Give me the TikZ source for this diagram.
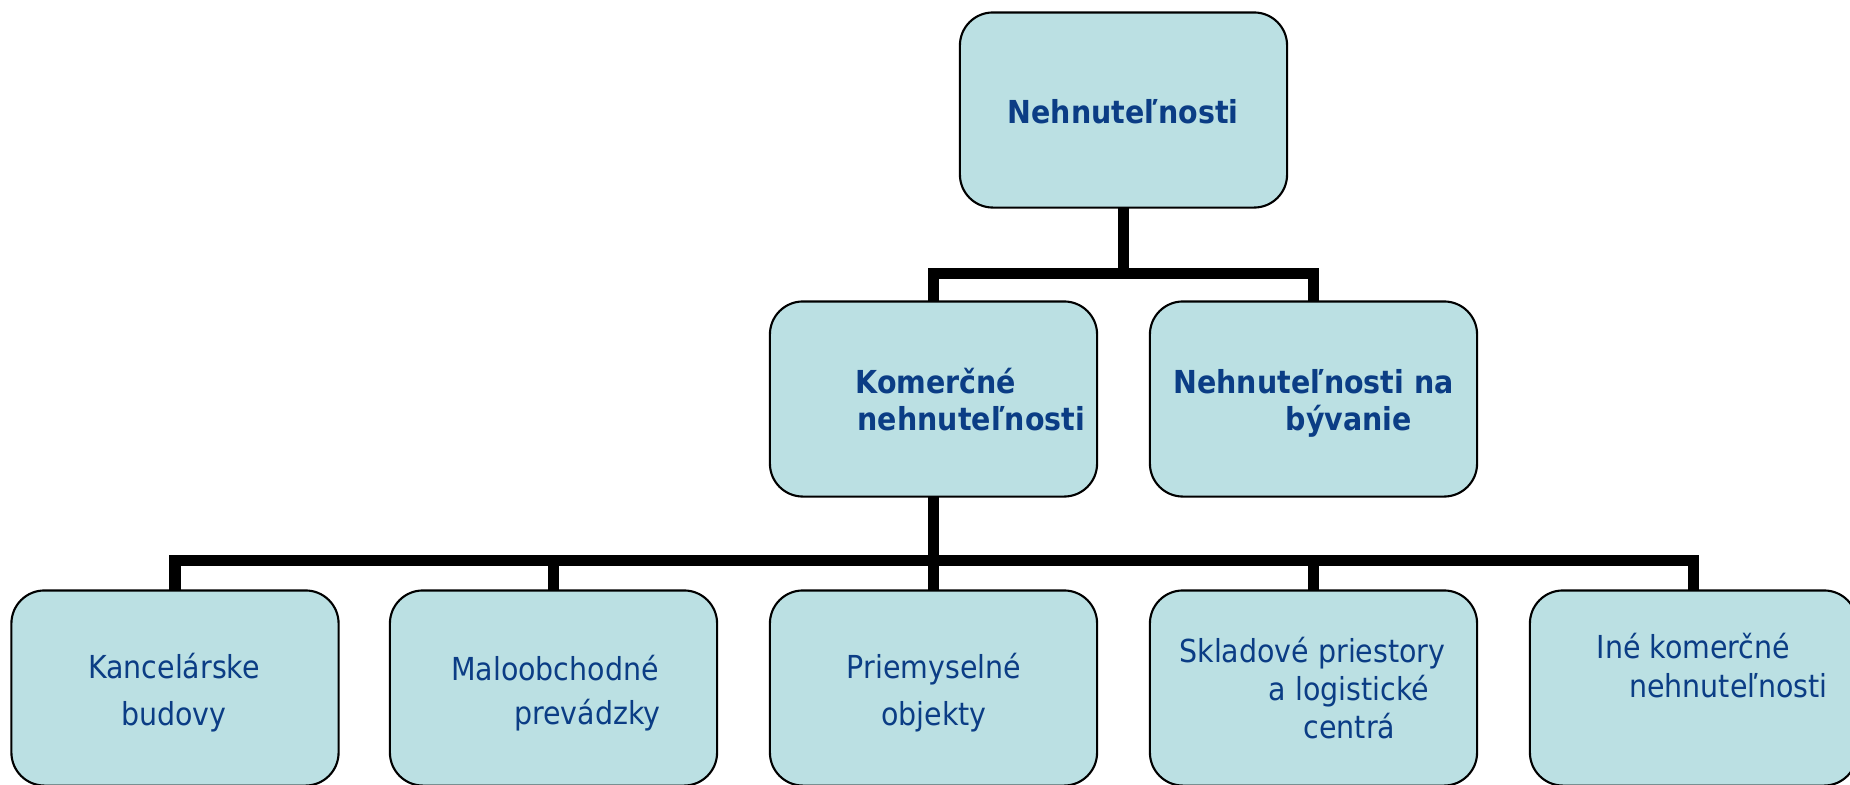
\documentclass[tikz,border=0pt]{standalone}
\usepackage{fontspec}
\setmainfont{DejaVu Sans Condensed}
\usepackage{tikz}
\usepackage{xcolor}
\definecolor{boxfill}{RGB}{187,224,227}
\definecolor{navy}{HTML}{0B3D85}
\tikzset{
  box/.style={
    draw=black,line width=0.6pt,fill=boxfill,rounded corners=0.33cm,
    minimum width=3.27cm,minimum height=1.95cm,inner sep=0pt,outer sep=0pt
  }}
\tikzset{
  link/.style={line width=3.2pt,draw=black}}
\tikzset{
  txt/.style={inner sep=0pt,text=navy,font=\fontsize{9}{11}\selectfont}}
\tikzset{
  btxt/.style={txt,font=\fontsize{9}{11}\selectfont\bfseries}}

\begin{document}
\begin{tikzpicture}[x=0.01cm,y=-0.01cm]
	\clip (0,0) rectangle (1850,784);
	\useasboundingbox (0,0) rectangle (1850,784);
	\node[box](top) at (1123.5,110) {};
	\node[box](kom) at (933.5,399) {};
	\node[box](byv) at (1313.5,399) {};
	\node[box](kanc) at (175,688) {};
	\node[box](malo) at (553.5,688) {};
	\node[box](prie) at (933.5,688) {};
	\node[box](skla) at (1313.5,688) {};
	\node[box](ine) at (1693.5,688) {};
	\draw[link]
	(top.south) -- ++(0,66) -| (kom.north);
	\draw[link]
	(top.south) -- ++(0,66) -| (byv.north);
	\foreach \b in {kanc,malo,prie,skla,ine}
	\draw[link]
	(kom.south) -- ++(0,64) -| (\b.north);
	\node[btxt,anchor=base](topa) at (1123,123) {Nehnuteľnosti};
	\node[btxt,anchor=base west](koma) at (855,393) {Komerčné};
	\node[btxt,anchor=base west](komb) at (857,430) {nehnuteľnosti};
	\node[btxt,anchor=base](byva) at (1313.5,393) {Nehnuteľnosti na};
	\node[btxt,anchor=base](byvb) at (1349,430) {bývanie};
	\node[txt,anchor=base](kanca) at (174,678) {Kancelárske};
	\node[txt,anchor=base](kancb) at (174,725) {budovy};
	\node[txt,anchor=base](maloa) at (555,680) {Maloobchodné};
	\node[txt,anchor=base east](malob) at (661,724) {prevádzky};
	\node[txt,anchor=base](priea) at (934,678) {Priemyselné};
	\node[txt,anchor=base](prieb) at (934,725) {objekty};
	\node[txt,anchor=base](sklaa) at (1312.5,662) {Skladové priestory};
	\node[txt,anchor=base](sklab) at (1349,700) {a logistické};
	\node[txt,anchor=base](sklac) at (1349.5,738) {centrá};
	\node[txt,anchor=base](inea) at (1693.5,658) {Iné komerčné};
	\node[txt,anchor=base](ineb) at (1728.5,697) {nehnuteľnosti};
\end{tikzpicture}
\end{document}
